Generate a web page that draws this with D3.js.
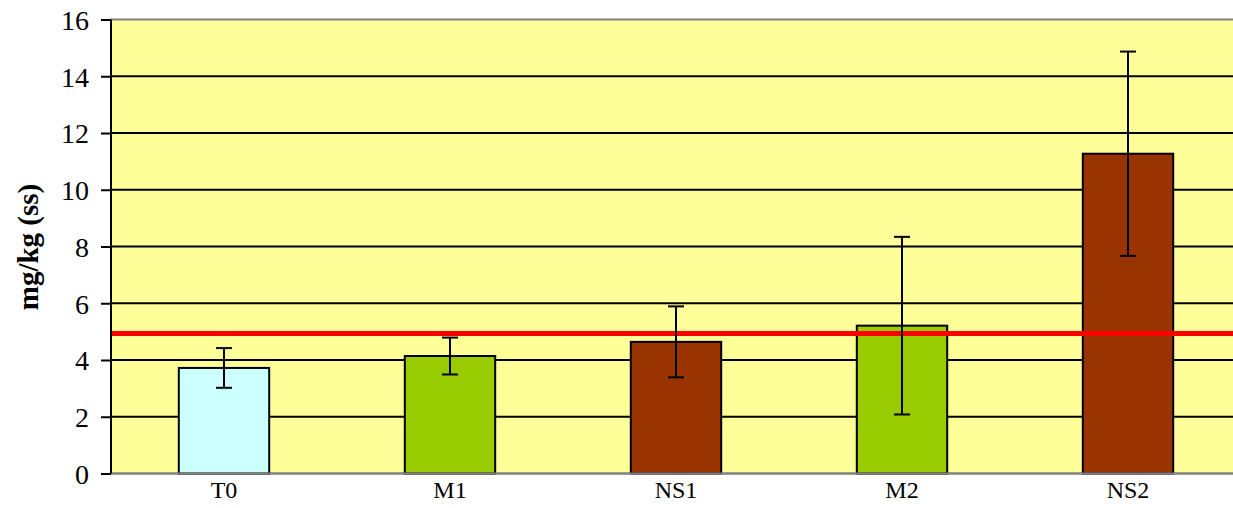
<!DOCTYPE html>
<html><head><meta charset="utf-8">
<script src="https://cdn.jsdelivr.net/npm/d3@7"></script>
<style>body{margin:0;background:#fff}svg{display:block}
svg text{font-family:"Liberation Serif","Times New Roman",serif !important;fill:#000}</style>
</head><body>
<svg id="c" width="1233" height="508"></svg>
<script>
const categories = ["T0", "M1", "NS1", "M2", "NS2"];
const values = [3.72, 4.14, 4.64, 5.21, 11.27];
const errors = [0.70, 0.65, 1.25, 3.13, 3.60];
const barColors = ["#CCFFFF", "#99CC00", "#993300", "#99CC00", "#993300"];
const yTicks = [0, 2, 4, 6, 8, 10, 12, 14, 16];
const limitValue = 4.93;
const yTitle = "mg/kg (ss)";

const svg = d3.select("#c");
const L = 111, R = 1241, T = 19.5, B = 473.5;
const x = d3.scaleBand().domain(categories).range([L, R]).paddingInner(0.6).paddingOuter(0.3);
const y = d3.scaleLinear().domain([0, 16]).range([B, T]);

svg.append("rect").attr("x", L).attr("y", T).attr("width", R - L).attr("height", B - T)
  .attr("fill", "#FFFF99").attr("stroke", "#808080").attr("stroke-width", 2);

// gridlines
svg.append("g").selectAll("line").data(yTicks.filter(d => d > 0 && d < 16)).join("line")
  .attr("x1", L).attr("x2", R).attr("y1", d => y(d)).attr("y2", d => y(d))
  .attr("stroke", "#000").attr("stroke-width", 2);

// bars
svg.append("g").selectAll("rect").data(categories).join("rect")
  .attr("x", d => x(d)).attr("width", x.bandwidth())
  .attr("y", (d, i) => y(values[i])).attr("height", (d, i) => B - y(values[i]))
  .attr("fill", (d, i) => barColors[i]).attr("stroke", "#000").attr("stroke-width", 2);

// bottom axis line gray
svg.append("line").attr("x1", L).attr("x2", R).attr("y1", B).attr("y2", B)
  .attr("stroke", "#808080").attr("stroke-width", 2);

// red limit line
svg.append("line").attr("x1", L).attr("x2", R).attr("y1", y(limitValue)).attr("y2", y(limitValue))
  .attr("stroke", "#FF0000").attr("stroke-width", 5);

// error bars
const eg = svg.append("g").attr("stroke", "#000").attr("stroke-width", 2);
categories.forEach((c, i) => {
  const cx = x(c) + x.bandwidth() / 2;
  const y1 = y(values[i] + errors[i]), y0 = y(values[i] - errors[i]);
  eg.append("line").attr("x1", cx).attr("x2", cx).attr("y1", y1).attr("y2", y0);
  eg.append("line").attr("x1", cx - 8).attr("x2", cx + 8).attr("y1", y1).attr("y2", y1);
  eg.append("line").attr("x1", cx - 8).attr("x2", cx + 8).attr("y1", y0).attr("y2", y0);
});

// y axis
const yAxis = d3.axisLeft(y).tickValues(yTicks).tickSize(10).tickPadding(12).tickFormat(d3.format("d"));
const ya = svg.append("g").attr("transform", `translate(${L},0)`).call(yAxis);
ya.select(".domain").attr("stroke", "#000").attr("stroke-width", 2).attr("d", `M0,${T}V${B}`);
ya.selectAll(".tick line").attr("stroke", "#000").attr("stroke-width", 2);
ya.selectAll(".tick text").attr("font-size", 28).attr("dy", "0.35em");

// x labels
const xAxis = d3.axisBottom(x).tickSize(0).tickPadding(0);
const xa = svg.append("g").attr("transform", `translate(0,${B})`).call(xAxis);
xa.select(".domain").remove();
xa.selectAll(".tick text").attr("font-size", 24).attr("y", 24).attr("dy", null);

// y title
svg.append("text").attr("transform", "translate(38,247) rotate(-90)")
  .attr("text-anchor", "middle")
  .attr("font-weight", "bold").attr("font-size", 29).text(yTitle);
</script>
</body></html>
